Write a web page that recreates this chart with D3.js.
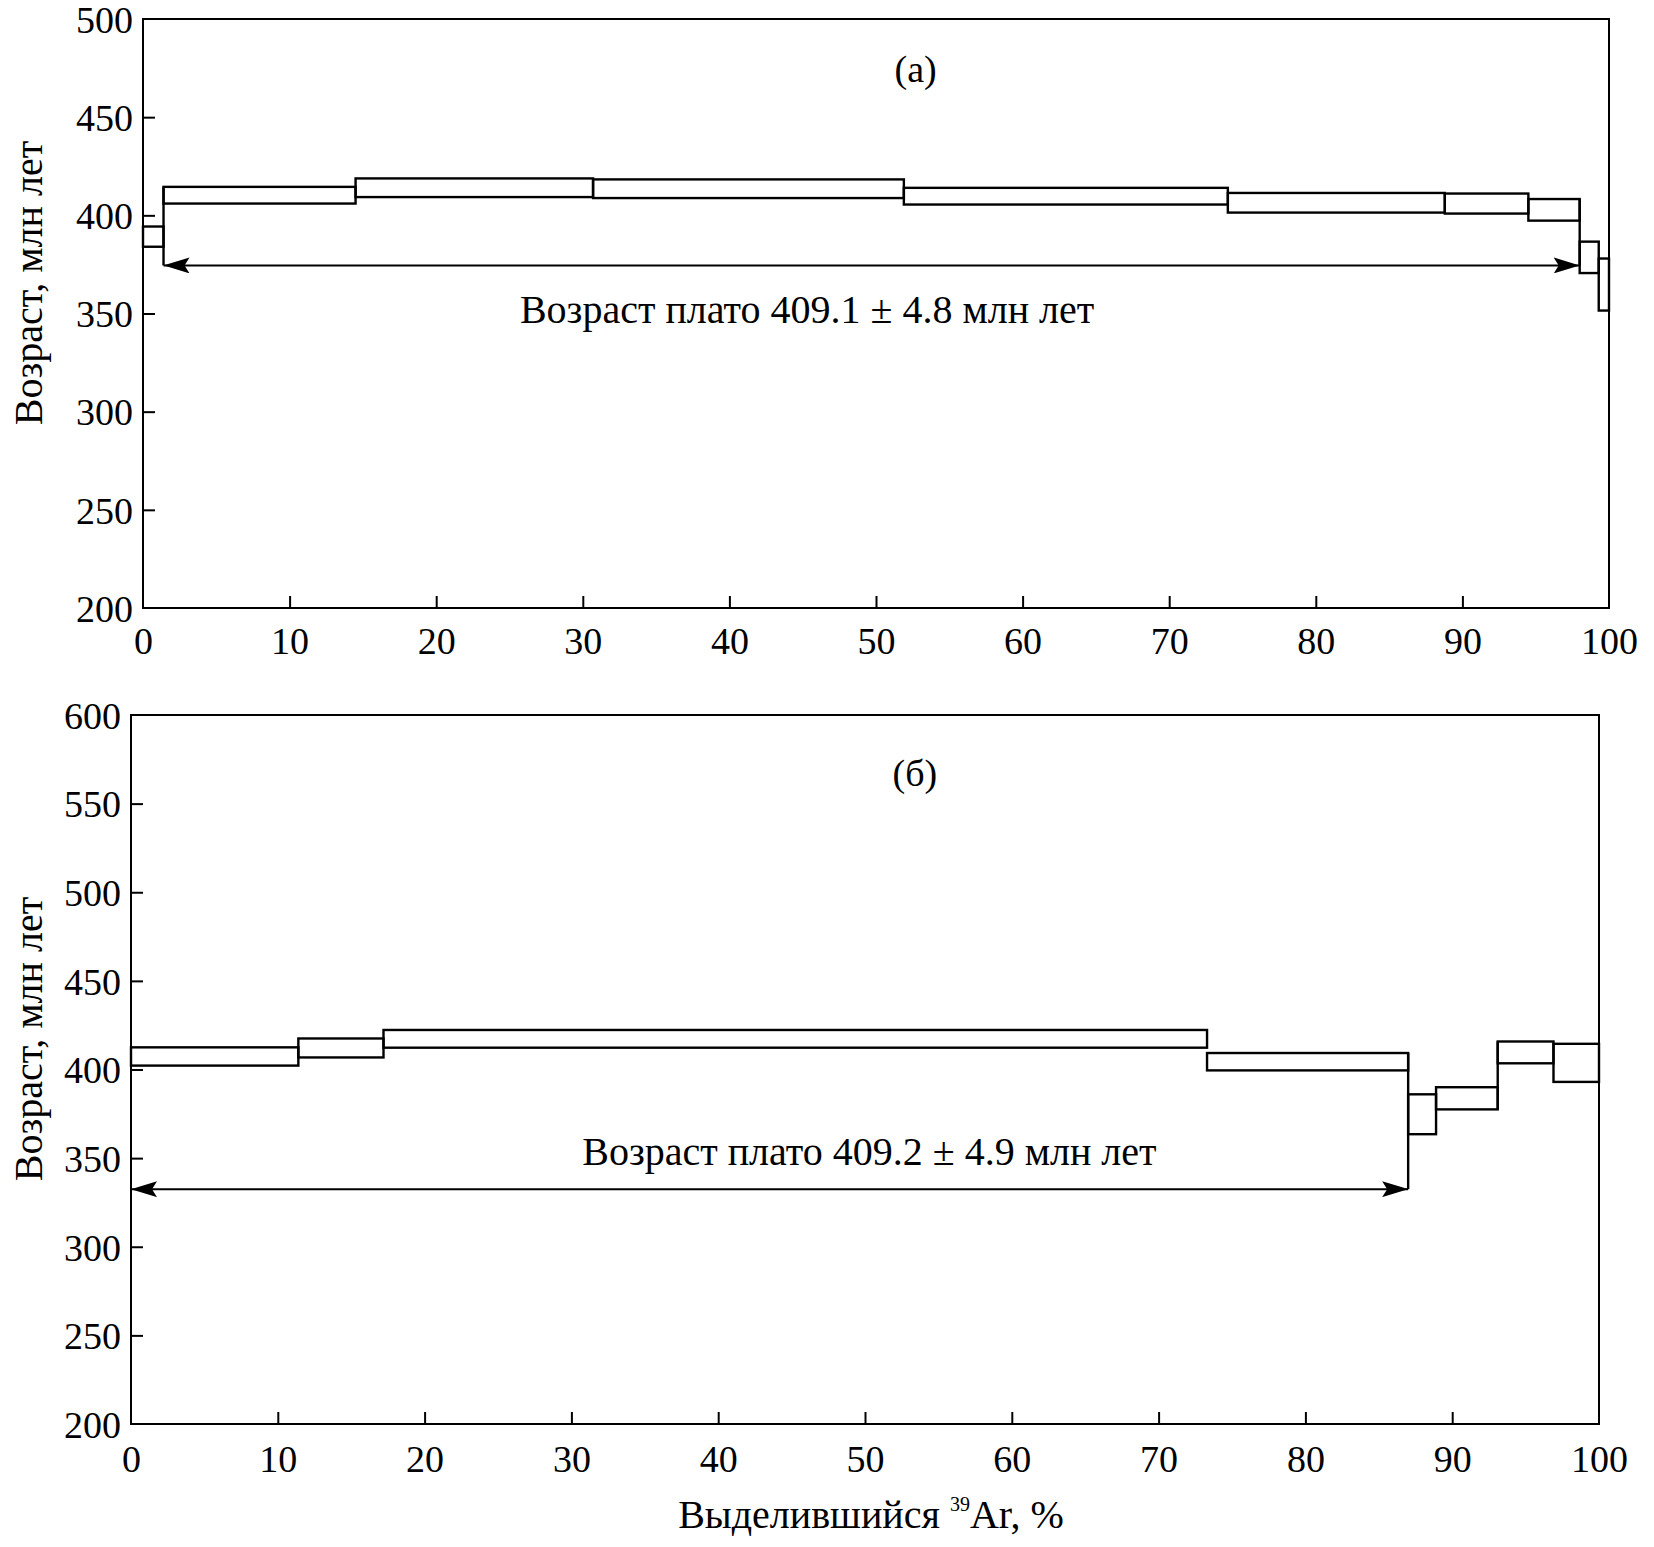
<!DOCTYPE html>
<html><head><meta charset="utf-8">
<script src="https://cdn.jsdelivr.net/npm/d3@7"></script>
<style>
html,body{margin:0;padding:0;background:#fff;}
svg text{font-family:"Liberation Serif","Times New Roman",serif;fill:#000;}
</style></head>
<body>
<svg id="chart" width="1654" height="1547"></svg>
<script>
// ---- data ----
const xTicks = [0,10,20,30,40,50,60,70,80,90,100];
const yTicksA = [200,250,300,350,400,450,500];
const yTicksB = [200,250,300,350,400,450,500,550,600];

// panel (а): step boundaries (% 39Ar) and age band (Ma)
const edgesA = [0, 1.4, 14.5, 30.7, 51.9, 74.0, 88.8, 94.5, 98.0, 99.3, 100];
const loA    = [384.0, 406.0, 409.3, 408.8, 405.5, 401.4, 400.9, 397.3, 370.6, 351.5];
const hiA    = [394.3, 414.5, 418.8, 418.3, 414.0, 411.4, 411.1, 408.3, 386.6, 378.0];
const plateauA = {from: 1.4, to: 98.0, age: 374.5, label: "Возраст плато 409.1 ± 4.8 млн лет"};
const connectorsA = [];

// panel (б)
const edgesB = [0, 11.4, 17.2, 73.3, 87.0, 88.9, 93.1, 96.9, 100];
const loB    = [402.2, 406.8, 412.3, 399.5, 363.5, 377.5, 403.5, 393.0];
const hiB    = [412.5, 417.5, 422.3, 409.3, 386.0, 390.0, 415.8, 414.5];
const plateauB = {from: 0, to: 87.0, age: 332.5, label: "Возраст плато 409.2 ± 4.9 млн лет"};
const connectorsB = [93.1];

const svg = d3.select("#chart");
const defs = svg.append("defs");
defs.append("marker").attr("id","ah").attr("viewBox","0 0 26 16")
  .attr("refX",26).attr("refY",8).attr("markerWidth",26).attr("markerHeight",16)
  .attr("markerUnits","userSpaceOnUse").attr("orient","auto-start-reverse")
  .append("path").attr("d","M0,0 L26,8 L0,16 L5,8 Z").attr("fill","#000");

function panel(cfg){
  const x = d3.scaleLinear().domain([0,100]).range([cfg.left, cfg.right]);
  const y = d3.scaleLinear().domain(cfg.ydom).range([cfg.bottom, cfg.top]);
  const g = svg.append("g");
  // frame
  g.append("rect").attr("x",cfg.left).attr("y",cfg.top)
   .attr("width",cfg.right-cfg.left).attr("height",cfg.bottom-cfg.top)
   .attr("fill","none").attr("stroke","#000").attr("stroke-width",2);
  // x axis
  const xa = g.append("g").attr("transform",`translate(0,${cfg.bottom})`)
    .call(d3.axisBottom(x).tickValues(cfg.xticks).tickSize(-12).tickPadding(0));
  xa.select(".domain").remove();
  xa.selectAll(".tick line").attr("stroke","#000").attr("stroke-width",2)
    .attr("display",d=> (d===0||d===100)?"none":null);
  xa.selectAll(".tick text").attr("font-size",38).attr("dy",null)
    .attr("y",cfg.xlabDy).attr("dominant-baseline","middle")
    .attr("font-family","Liberation Serif");
  // y axis
  const ya = g.append("g").attr("transform",`translate(${cfg.left},0)`)
    .call(d3.axisLeft(y).tickValues(cfg.yticks).tickSize(-12).tickPadding(0));
  ya.select(".domain").remove();
  ya.selectAll(".tick line").attr("stroke","#000").attr("stroke-width",2)
    .attr("display",(d,i)=> (i===0||i===cfg.yticks.length-1)?"none":null);
  ya.selectAll(".tick text").attr("font-size",38).attr("x",-10).attr("dy","0.35em")
    .attr("font-family","Liberation Serif");
  // steps
  const steps = cfg.lo.map((lo,i)=>({x0:cfg.edges[i], x1:cfg.edges[i+1], lo, hi:cfg.hi[i]}));
  g.selectAll("rect.step").data(steps).enter().append("rect").attr("class","step")
    .attr("x",d=>x(d.x0)).attr("width",d=>x(d.x1)-x(d.x0))
    .attr("y",d=>y(d.hi)).attr("height",d=>y(d.lo)-y(d.hi))
    .attr("fill","none").attr("stroke","#000").attr("stroke-width",2.4);
  // vertical connectors between neighbouring steps
  cfg.connectors.forEach(cx=>{
    const i = cfg.edges.indexOf(cx) - 1;
    const vals = [cfg.lo[i],cfg.hi[i],cfg.lo[i+1],cfg.hi[i+1]];
    g.append("line").attr("x1",x(cx)).attr("x2",x(cx))
     .attr("y1",y(d3.min(vals))).attr("y2",y(d3.max(vals)))
     .attr("stroke","#000").attr("stroke-width",2.4);
  });
  // plateau boundary verticals
  const p = cfg.plateau;
  cfg.bounds.forEach(b=>{
    g.append("line").attr("x1",x(b.x)).attr("x2",x(b.x))
     .attr("y1",y(p.age)).attr("y2",y(b.top))
     .attr("stroke","#000").attr("stroke-width",2.4);
  });
  // arrow
  g.append("line").attr("x1",x(p.from)).attr("x2",x(p.to))
   .attr("y1",y(p.age)).attr("y2",y(p.age))
   .attr("stroke","#000").attr("stroke-width",2)
   .attr("marker-start","url(#ah)").attr("marker-end","url(#ah)");
  g.append("text").attr("x",x(cfg.labelX)).attr("y",y(cfg.labelY))
   .attr("text-anchor","middle").attr("font-size",40).text(p.label);
  g.append("text").attr("x",x(cfg.tagX)).attr("y",y(cfg.tagY))
   .attr("text-anchor","middle").attr("font-size",38).text(cfg.tag);
  // y title
  g.append("text").attr("transform",`translate(${cfg.ytX},${cfg.ytY}) rotate(-90)`)
   .attr("text-anchor","middle").attr("font-size",40).text("Возраст, млн лет");
  return {x,y};
}

panel({left:143,right:1609,top:19,bottom:608,ydom:[200,500],yticks:yTicksA,xticks:xTicks,
  edges:edgesA,lo:loA,hi:hiA,plateau:plateauA,connectors:connectorsA,
  bounds:[{x:1.4,top:414.5},{x:98.0,top:408.3}],
  labelX:45.3,labelY:345,tag:"(а)",tagX:52.7,tagY:468,xlabDy:37,ytX:42,ytY:283});

panel({left:131,right:1599,top:715,bottom:1424,ydom:[200,600],yticks:yTicksB,xticks:xTicks,
  edges:edgesB,lo:loB,hi:hiB,plateau:plateauB,connectors:connectorsB,
  bounds:[{x:87.0,top:409.3}],
  labelX:50.3,labelY:346,tag:"(б)",tagX:53.4,tagY:560,xlabDy:39,ytX:42,ytY:1039});

// x title
const xt = svg.append("text").attr("x",871).attr("y",1528).attr("text-anchor","middle").attr("font-size",40);
xt.append("tspan").text("Выделившийся ");
xt.append("tspan").attr("font-size",20).attr("dy",-17).text("39");
xt.append("tspan").attr("dy",17).text("Ar, %");
</script>
</body></html>
